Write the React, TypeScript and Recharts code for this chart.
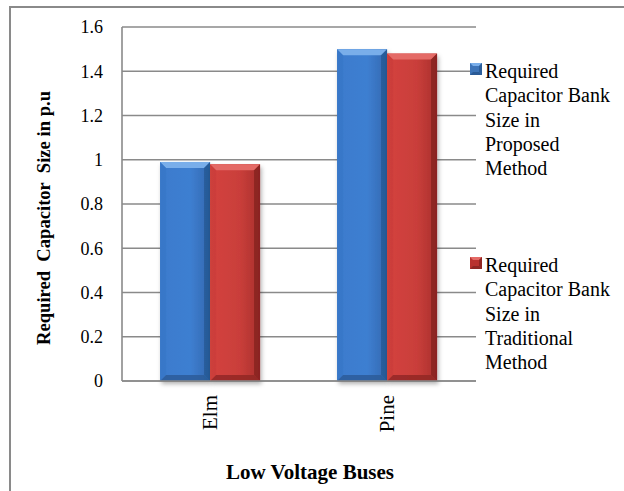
import React from 'react';
import { BarChart, Bar, XAxis, YAxis, CartesianGrid, Legend } from 'recharts';

// buses on the x axis
const buses = ['Elm', 'Pine'];
// required capacitor bank size (p.u)
const proposedMethod = [0.99, 1.5];
const traditionalMethod = [0.98, 1.48];
const yTicks = [0, 0.2, 0.4, 0.6, 0.8, 1, 1.2, 1.4, 1.6];

const seriesNames = [
  'Required Capacitor Bank Size in Proposed Method',
  'Required Capacitor Bank Size in Traditional Method',
];
const legendLines = [
  ['Required', 'Capacitor Bank', 'Size in', 'Proposed', 'Method'],
  ['Required', 'Capacitor Bank', 'Size in', 'Traditional', 'Method'],
];

const data = buses.map((name, i) => ({
  name,
  proposed: proposedMethod[i],
  traditional: traditionalMethod[i],
}));

const PALETTE = {
  blue: { id: 'gradBlue', top: '#79aeea', left: '#3574c4', right: '#24558f', bottom: '#2a5a96', marker: '#3d74b8' },
  red: { id: 'gradRed', top: '#e46a66', left: '#c73d39', right: '#7f1f1c', bottom: '#8e2724', marker: '#b8322f' },
};

const SERIF = '"Liberation Serif", "Times New Roman", serif';
const GRID = '#8a8a8a';

const BevelBar = (props: any) => {
  const { x, y, width, height, pal } = props;
  if (!height || height <= 0) return null;
  const b = 6;
  return (
    <g filter="url(#barShadow)">
      <rect x={x} y={y} width={width} height={height} fill={`url(#${pal.id})`} />
      <polygon points={`${x},${y} ${x + width},${y} ${x + width - b},${y + b} ${x + b},${y + b}`} fill={pal.top} />
      <polygon points={`${x},${y} ${x + b},${y + b} ${x + b},${y + height - b} ${x},${y + height}`} fill={pal.left} opacity={0.55} />
      <polygon points={`${x + width},${y} ${x + width - b},${y + b} ${x + width - b},${y + height - b} ${x + width},${y + height}`} fill={pal.right} opacity={0.7} />
      <polygon points={`${x},${y + height} ${x + b},${y + height - b} ${x + width - b},${y + height - b} ${x + width},${y + height}`} fill={pal.bottom} opacity={0.8} />
    </g>
  );
};

const XTick = (props: any) => {
  const { x, y, payload } = props;
  const ty = y + 6;
  return (
    <text
      x={x}
      y={ty}
      transform={`rotate(-90, ${x}, ${ty})`}
      textAnchor="end"
      dy="0.33em"
      fontFamily={SERIF}
      fontSize={21}
      fill="#000"
    >
      {payload.value}
    </text>
  );
};

const Marker = ({ pal }: any) => (
  <svg width={12} height={12} style={{ display: 'block' }}>
    <rect x={0} y={0} width={12} height={12} fill={pal.marker} />
    <polygon points="0,0 12,0 9,3 3,3" fill={pal.top} />
    <polygon points="12,0 9,3 9,9 12,12" fill={pal.right} opacity={0.7} />
    <polygon points="0,12 3,9 9,9 12,12" fill={pal.bottom} />
  </svg>
);

const LegendContent = () => {
  const pals = [PALETTE.blue, PALETTE.red];
  return (
    <div style={{ position: 'relative', width: 154, height: 320 }}>
      {legendLines.map((lines, i) => (
        <div key={seriesNames[i]} style={{ position: 'absolute', left: 0, top: i * 194 }}>
          <div style={{ position: 'absolute', left: 0, top: 4 }}>
            <Marker pal={pals[i]} />
          </div>
          <div
            style={{
              position: 'absolute',
              left: 15,
              top: 0,
              fontFamily: SERIF,
              fontSize: 20,
              lineHeight: '24.3px',
              color: '#000',
              whiteSpace: 'nowrap',
            }}
          >
            {lines.map((l) => (
              <div key={l}>{l}</div>
            ))}
          </div>
        </div>
      ))}
    </div>
  );
};

export default function App() {
  return (
    <div style={{ position: 'absolute', left: 0, top: 0, width: 624, height: 491, background: '#fff', overflow: 'hidden' }}>
      <svg width={0} height={0} style={{ position: 'absolute' }}>
        <defs>
          <linearGradient id="gradBlue" x1="0" y1="0" x2="1" y2="0">
            <stop offset="0%" stopColor="#3b7bcd" />
            <stop offset="60%" stopColor="#3e7fd1" />
            <stop offset="100%" stopColor="#3368b0" />
          </linearGradient>
          <linearGradient id="gradRed" x1="0" y1="0" x2="1" y2="0">
            <stop offset="0%" stopColor="#d4433f" />
            <stop offset="60%" stopColor="#c93e3a" />
            <stop offset="100%" stopColor="#a9302d" />
          </linearGradient>
          <filter id="barShadow" x="-20%" y="-5%" width="140%" height="115%">
            <feDropShadow dx="1.5" dy="3" stdDeviation="2" floodColor="#000" floodOpacity="0.3" />
          </filter>
        </defs>
      </svg>

      <div
        style={{
          position: 'absolute',
          left: 9,
          top: 6,
          width: 630,
          height: 500,
          borderTop: `2px solid ${GRID}`,
          borderLeft: `2px solid ${GRID}`,
        }}
      />

      <div style={{ position: 'absolute', left: 0, top: 0 }}>
        <BarChart
          width={624}
          height={491}
          data={data}
          margin={{ top: 27, right: 148, left: 10, bottom: 50 }}
          barCategoryGap="21.5%"
          barGap={0}
        >
          <CartesianGrid horizontal vertical={false} stroke={GRID} strokeWidth={1.4} />
          <XAxis
            dataKey="name"
            height={60}
            tickLine={false}
            axisLine={{ stroke: GRID, strokeWidth: 1.6 }}
            tick={<XTick />}
            interval={0}
          />
          <YAxis
            width={112}
            domain={[0, 1.6]}
            ticks={yTicks}
            tickLine={false}
            tickSize={6}
            tickMargin={13}
            axisLine={{ stroke: GRID, strokeWidth: 1.6 }}
            tick={{ fontFamily: SERIF, fontSize: 18, fill: '#000' }}
            tickFormatter={(v: number) => String(Number(v.toFixed(1)))}
          />
          <Legend
            layout="horizontal"
            verticalAlign="middle"
            align="center"
            content={<LegendContent />}
            wrapperStyle={{ position: 'absolute', left: 470, top: 59, width: 154, height: 320 }}
          />
          <Bar
            dataKey="proposed"
            name={seriesNames[0]}
            isAnimationActive={false}
            shape={(p: any) => <BevelBar {...p} pal={PALETTE.blue} />}
          />
          <Bar
            dataKey="traditional"
            name={seriesNames[1]}
            isAnimationActive={false}
            shape={(p: any) => <BevelBar {...p} pal={PALETTE.red} />}
          />
        </BarChart>
      </div>

      <div
        style={{
          position: 'absolute',
          left: 44,
          top: 218,
          transform: 'translate(-50%, -50%) rotate(-90deg)',
          fontFamily: SERIF,
          fontWeight: 'bold',
          fontSize: 18.6,
          whiteSpace: 'pre',
          color: '#000',
        }}
      >
        {'Required  Capacitor  Size in p.u'}
      </div>

      <div
        style={{
          position: 'absolute',
          left: 310,
          top: 460,
          transform: 'translateX(-50%)',
          fontFamily: SERIF,
          fontWeight: 'bold',
          fontSize: 21,
          whiteSpace: 'nowrap',
          color: '#000',
        }}
      >
        Low Voltage Buses
      </div>
    </div>
  );
}
